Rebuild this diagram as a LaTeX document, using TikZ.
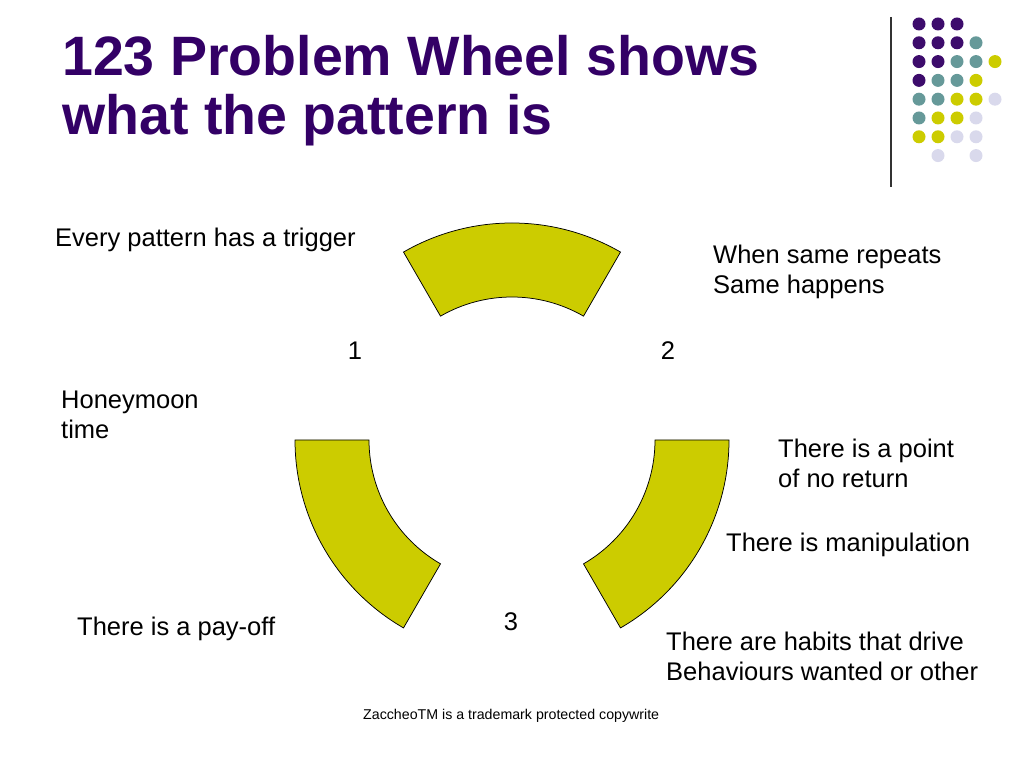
\documentclass[tikz,border=0pt]{standalone}
\usepackage{fontspec}
\setmainfont{Liberation Sans}
\definecolor{titlepurple}{HTML}{330066}
\definecolor{dotpurple}{HTML}{3D0C6C}
\definecolor{dotteal}{HTML}{669999}
\definecolor{wheelyellow}{HTML}{CCCC00}
\definecolor{dotlilac}{HTML}{D9D9EC}

\begin{document}
\begin{tikzpicture}[x=1pt,y=1pt,
    sector/.style={draw=black,line width=0.75pt,fill=wheelyellow},
    txt/.style={inner sep=0pt,font=\fontsize{25.5}{30}\selectfont,align=left},
    dot/.style={circle,inner sep=0pt,minimum size=13pt}]
    \useasboundingbox (0,0) rectangle (1024,768);

    \node[anchor=north west,inner sep=0pt,align=left,text=titlepurple,
          font=\fontsize{55.5}{59}\bfseries\selectfont] (title) at (62,733)
          {123 Problem Wheel shows\\what the pattern is};

    % corner decoration
    \draw[line width=1.4pt,black!80] (891,751) -- (891,581);
    \foreach \c/\r/\col in {0/0/dotpurple,1/0/dotpurple,2/0/dotpurple,
        0/1/dotpurple,1/1/dotpurple,2/1/dotpurple,3/1/dotteal,
        0/2/dotpurple,1/2/dotpurple,2/2/dotteal,3/2/dotteal,4/2/wheelyellow,
        0/3/dotpurple,1/3/dotteal,2/3/dotteal,3/3/wheelyellow,
        0/4/dotteal,1/4/dotteal,2/4/wheelyellow,3/4/wheelyellow,4/4/dotlilac,
        0/5/dotteal,1/5/wheelyellow,2/5/wheelyellow,3/5/dotlilac,
        0/6/wheelyellow,1/6/wheelyellow,2/6/dotlilac,3/6/dotlilac,
        1/7/dotlilac,3/7/dotlilac}
        \node[dot,fill=\col] (dot-\c-\r) at ({919+19*\c},{744-18.8*\r}) {};

    % the wheel
    \coordinate (hub) at (512,328);
    \foreach \a in {60,180,300}
        \draw[sector] ([shift={(\a:217)}]hub) arc[start angle=\a,end angle=\a+60,radius=217]
            -- ([shift={({\a+60}:143)}]hub) arc[start angle=\a+60,end angle=\a,radius=143] -- cycle;

    \node[txt,anchor=base] (one) at (355,408) {1};
    \node[txt,anchor=base] (two) at (668,408) {2};
    \node[txt,anchor=base] (three) at (511,138) {3};

    \node[txt,anchor=base west] (trigger) at (55,521) {Every pattern has a trigger};
    \node[txt,anchor=north west] (repeats) at (713,523.5) {When same repeats\\Same happens};
    \node[txt,anchor=north west] (honeymoon) at (61,377.5) {Honeymoon\\time};
    \node[txt,anchor=north west] (noreturn) at (778,329.5) {There is a point\\of no return};
    \node[txt,anchor=base west] (manip) at (726,216) {There is manipulation};
    \node[txt,anchor=base west] (payoff) at (77,133) {There is a pay-off};
    \node[txt,anchor=north west] (habits) at (666,136.5) {There are habits that drive\\Behaviours wanted or other};

    \node[inner sep=0pt,anchor=base west,font=\fontsize{14.2}{16}\selectfont] (footer) at (363,49)
        {ZaccheoTM is a trademark protected copywrite};
\end{tikzpicture}
\end{document}
